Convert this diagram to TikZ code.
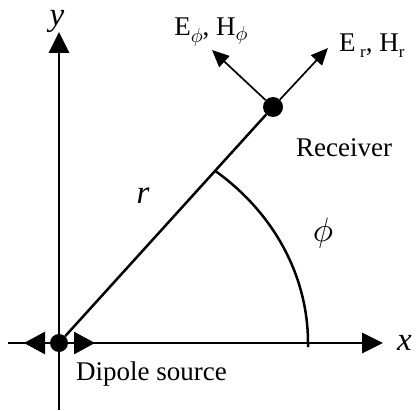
\documentclass[tikz,border=0pt]{standalone}
\usepackage{graphicx}
\usepackage{fontspec}
\setmainfont{Liberation Serif}
\usetikzlibrary{arrows.meta, positioning}
\newcommand{\phisym}[1]{\scalebox{#1}{\fontsize{10}{12}\selectfont$\phi$}}
\newcommand{\subtxt}[1]{\raisebox{-6pt}{\fontsize{17}{20}\selectfont #1}}

\begin{document}
\begin{tikzpicture}[
    x=1pt, y=1pt,
    axis/.style={line width=2.8pt, -{Triangle[length=21pt, width=20pt]}},
    field/.style={line width=1.7pt, -{Triangle[length=17pt, width=15pt]}},
    dot/.style={circle, fill, inner sep=0pt, minimum size=18pt},
    lbl/.style={font=\fontsize{27}{32}\selectfont, inner sep=0pt},
    var/.style={font=\fontsize{33}{38}\selectfont\itshape, inner sep=0pt},
]
    \useasboundingbox (-59,-67) rectangle (358,343);

    % axes
    \coordinate (ybot) at (0,-67);
    \coordinate (ytop) at (0,311);
    \coordinate (xleft) at (-51,0);
    \coordinate (xright) at (324,0);
    \draw[axis] (ybot) -- (ytop);
    \draw[line width=2.8pt] (xleft) -- (0,0);
    \draw[axis] (0,0) -- (xright);
    \node[var, anchor=base] (ylab) at (-2,317) {y};
    \node[var, right=14pt of xright] (xlab) {x};

    % dipole source
    \coordinate (dl) at (-35,0);
    \coordinate (dr) at (36,0);
    \draw[line width=2.8pt, {Triangle[length=21pt, width=22pt]}-{Triangle[length=21pt, width=22pt]}] (dl) -- (dr);
    \node[dot] (src) at (0,0) {};
    \node[lbl, anchor=west] (srclab) at (17,-31) {Dipole source};

    % receiver
    \node[dot, minimum size=20pt] (rx) at (214,236) {};
    \draw[line width=2.5pt] (src) -- (rx);
    \node[var] (rlab) at (84,147) {r};
    \node[lbl] (rxlab) at (285,195) {Receiver};

    % field components
    \coordinate (er) at (269,295);
    \coordinate (ephi) at (153,293);
    \draw[field] (rx) -- (er);
    \draw[field] (rx) -- (ephi);
    \node[lbl, anchor=west] (erlab) at (280,297) {E\,\subtxt{r}, H\subtxt{r}};
    \node[lbl, anchor=south] (ephilab) at (152,296) {E\raisebox{-7pt}{\phisym{2.0}}, H\raisebox{-5pt}{\phisym{2.0}}};

    % angle
    \draw[line width=2.5pt] (249,-4) -- (249,0) arc[start angle=0, end angle=51, x radius=249, y radius=221];
    \node[inner sep=0pt] (philab) at (264,110) {\phisym{3.4}};
\end{tikzpicture}
\end{document}
